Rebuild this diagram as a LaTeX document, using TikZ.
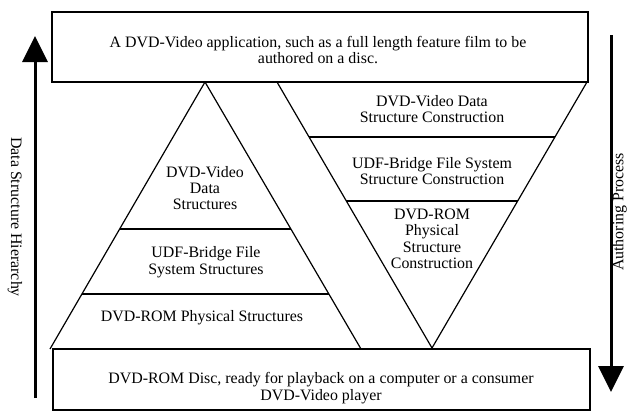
\documentclass[tikz,border=0pt]{standalone}
\usepackage{fontspec}
\setmainfont{Liberation Serif}
\usetikzlibrary{arrows.meta,calc}
\begin{document}
\begin{tikzpicture}[x=1pt,y=-1pt,
  boxshape/.style={draw, line width=1.2pt, inner sep=0pt},
  edge/.style={line width=1.2pt, line join=miter},
  lbl/.style={font=\fontsize{15.9}{16.4}\selectfont, align=center, inner sep=0pt},
  bigarrow/.style={line width=3pt, -{Triangle[width=25pt,length=26pt]}}]
\useasboundingbox (0,0) rectangle (629,418);
% boxes
\node[boxshape, minimum width=536pt, minimum height=70pt] (topbox) at (320,47) {};
\node[lbl] (toptext) at (318,50) {A DVD-Video application, such as a full length feature film to be\\authored on a disc.};
\node[boxshape, minimum width=537pt, minimum height=61pt] (botbox) at (321.5,379.5) {};
\node[lbl] (bottext) at (321,388) {DVD-ROM Disc, ready for playback on a computer or a consumer\\DVD-Video player};
% left triangle
\coordinate (lap) at (205,82);
\coordinate (lbl) at (50,349);
\coordinate (lbr) at (361,349);
\draw[edge] (lbl) -- (lap) -- (lbr);
\draw[edge] ($(lap)!0.5506!(lbl)$) -- ($(lap)!0.5506!(lbr)$);
\draw[edge] ($(lap)!0.794!(lbl)$) -- ($(lap)!0.794!(lbr)$);
\node[lbl] (lt1) at (205,188) {DVD-Video\\Data\\Structures};
\node[lbl] (lt2) at (206,262) {UDF-Bridge File\\System Structures};
\node[lbl] (lt3) at (202,318) {DVD-ROM Physical Structures};
% inverted triangle
\coordinate (rtl) at (277,82);
\coordinate (rtr) at (587,82);
\coordinate (rap) at (432,348);
\draw[edge] (rtl) -- (rap) -- (rtr);
\draw[edge] ($(rtl)!0.2068!(rap)$) -- ($(rtr)!0.2068!(rap)$);
\draw[edge] ($(rtl)!0.447!(rap)$) -- ($(rtr)!0.447!(rap)$);
\node[lbl] (rt1) at (432,109) {DVD-Video Data\\Structure Construction};
\node[lbl] (rt2) at (432,171) {UDF-Bridge File System\\Structure Construction};
\node[lbl] (rt3) at (432,239) {DVD-ROM\\Physical\\Structure\\Construction};
% side arrows
\coordinate (la0) at (35,398);
\coordinate (la1) at (35,36);
\draw[bigarrow] (la0) -- (la1);
\coordinate (ra0) at (611,35);
\coordinate (ra1) at (611,392);
\draw[bigarrow] (ra0) -- (ra1);
\node[lbl, rotate=-90] (lside) at (15,217) {Data Structure Hierarchy};
\node[lbl, rotate=90] (rside) at (619.5,212) {Authoring Process};
\end{tikzpicture}
\end{document}
